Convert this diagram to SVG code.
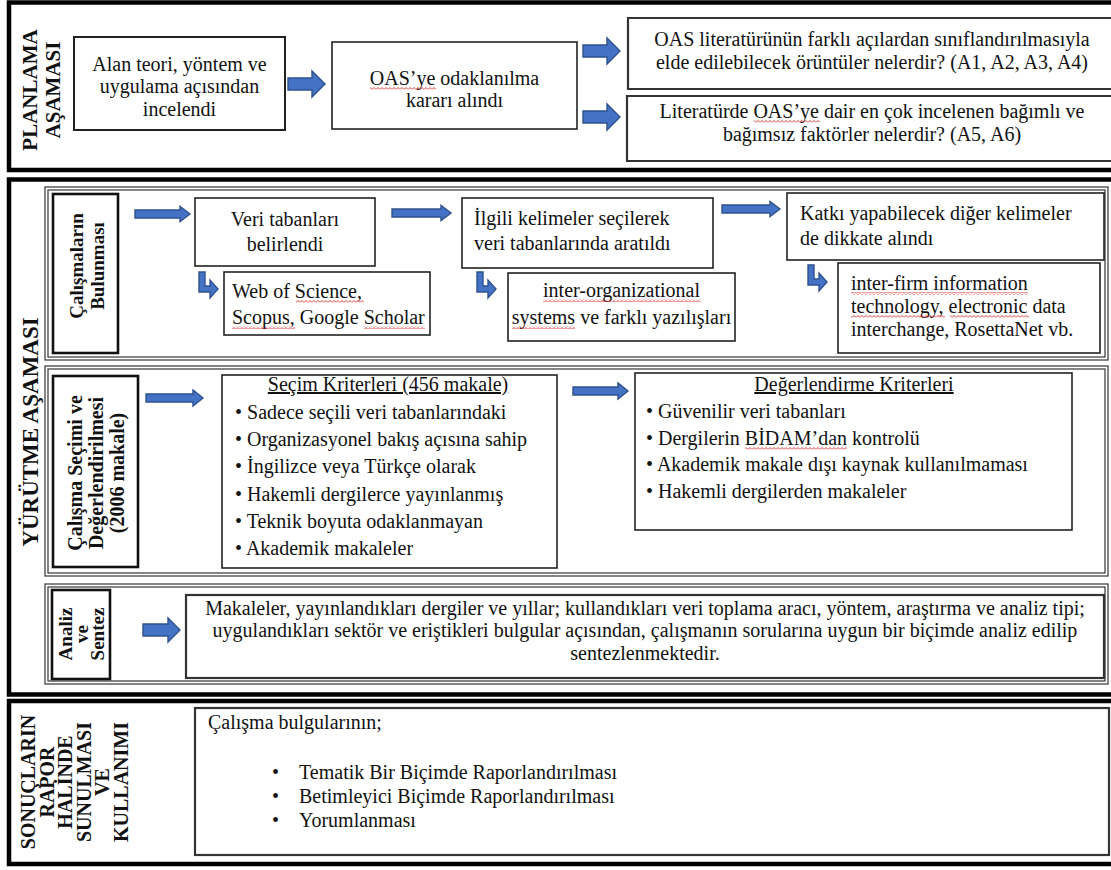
<svg xmlns="http://www.w3.org/2000/svg" width="1111" height="870" viewBox="0 0 1111 870">
<style>
.t{font-family:"Liberation Serif","Times New Roman",serif;font-size:20px;fill:#111}
.m{text-anchor:middle}
.lab{font-family:"Liberation Serif","Times New Roman",serif;font-size:19px;font-weight:bold;fill:#111;text-anchor:middle}
.sec{font-family:"Liberation Serif","Times New Roman",serif;font-size:21px;font-weight:bold;fill:#111;text-anchor:middle}
.frame{fill:none;stroke:#000;stroke-width:4.5}
.sub{fill:none;stroke:#444;stroke-width:1.3}
.box{fill:#fff;stroke:#222;stroke-width:1.6}
.dbl{fill:#fff;stroke:#333;stroke-width:2.2}
.lbox{fill:#fff;stroke:#111;stroke-width:2.6}
.arr{fill:#4472C4;stroke:#2F528F;stroke-width:1.4;stroke-linejoin:miter}
.wv{fill:url(#wave)}
</style>
<defs>
<path id="bigArr" d="M0,-6 H24 V-13 L37,0 L24,13 V6 H0 Z"/>
<path id="lArr" d="M0,0 H6 V14 H11 V8 L19,17 L11,26 V20 H0 Z"/>
<pattern id="wave" width="4" height="3" patternUnits="userSpaceOnUse">
<path d="M0,2.5 L2,0.5 L4,2.5" fill="none" stroke="#E02020" stroke-width="0.9"/>
</pattern>
</defs>
<rect width="1111" height="870" fill="#fff"/>

<!-- Section frames -->
<g id="section-planlama">
<path class="frame" d="M1113,2.5 H9 V170 H1113"/>
<text class="sec" transform="translate(37,90) rotate(-90)"><tspan x="0" y="0">PLANLAMA</tspan><tspan x="0" dy="23">AŞAMASI</tspan></text>
</g>
<g id="section-yurutme">
<path class="frame" d="M1113,179.5 H9 V694.5 H1113"/>
<text class="sec" transform="translate(38,432) rotate(-90)" style="font-size:23px">YÜRÜTME AŞAMASI</text>
</g>
<g id="section-sonuclar">
<path class="frame" d="M1113,701 H9 V864 H1113"/>
<text class="sec" transform="translate(35,782) rotate(-90)" style="font-size:20px"><tspan x="0" y="0">SONUÇLARIN</tspan><tspan x="0" dy="18.5">RAPOR</tspan><tspan x="0" dy="18.5">HALİNDE</tspan><tspan x="0" dy="18.5">SUNULMASI</tspan><tspan x="0" dy="18.5">VE</tspan><tspan x="0" dy="18.5">KULLANIMI</tspan></text>
</g>

<!-- Subsection frames -->
<g id="sub-bulunmasi">
<rect class="sub" x="45" y="187" width="1063" height="173"/>
<rect class="sub" x="48" y="190" width="1057" height="167"/>
</g>
<g id="sub-secim">
<rect class="sub" x="45" y="366" width="1063" height="210"/>
<rect class="sub" x="48" y="369" width="1057" height="204"/>
</g>
<g id="sub-analiz">
<rect class="sub" x="45" y="584" width="1063" height="100"/>
<rect class="sub" x="48" y="587" width="1057" height="94"/>
</g>

<!-- Planlama nodes -->
<g id="n-alan">
<rect class="box" x="74" y="37" width="211" height="93" style="stroke-width:2"/>
<text class="t m"><tspan x="179.5" y="71">Alan teori, yöntem ve</tspan><tspan x="179.5" y="93">uygulama açısından</tspan><tspan x="179.5" y="116">incelendi</tspan></text>
</g>
<g id="n-oas">
<rect class="box" x="332" y="42" width="245" height="87"/>
<text class="t m"><tspan x="454.5" y="85">OAS’ye odaklanılma</tspan><tspan x="454.5" y="107">kararı alındı</tspan></text>
<rect class="wv" x="370" y="87" width="66" height="3"/>
</g>
<g id="n-q1">
<path class="dbl" d="M1113,18 H628 V89 H1113"/>
<text class="t m"><tspan x="872" y="46">OAS literatürünün farklı açılardan sınıflandırılmasıyla</tspan><tspan x="872" y="69">elde edilebilecek örüntüler nelerdir? (A1, A2, A3, A4)</tspan></text>
</g>
<g id="n-q2">
<path class="dbl" d="M1113,96 H627 V161 H1113"/>
<text class="t m"><tspan x="872" y="118">Literatürde OAS’ye dair en çok incelenen bağımlı ve</tspan><tspan x="872" y="141">bağımsız faktörler nelerdir? (A5, A6)</tspan></text>
<rect class="wv" x="754" y="120" width="66" height="3"/>
</g>

<!-- Sub 1 nodes -->
<g id="n-lab-bul">
<rect class="lbox" x="53" y="194" width="65" height="159"/>
<text class="lab" transform="translate(83,266) rotate(-90)"><tspan x="0" y="0">Çalışmaların</tspan><tspan x="0" dy="21">Bulunması</tspan></text>
</g>
<g id="n-veri">
<rect class="box" x="195" y="198" width="180" height="68"/>
<text class="t m"><tspan x="285" y="226">Veri tabanları</tspan><tspan x="285" y="251">belirlendi</tspan></text>
</g>
<g id="n-ilgili">
<rect class="box" x="462" y="198" width="251" height="70"/>
<text class="t"><tspan x="474" y="225">İlgili kelimeler seçilerek</tspan><tspan x="474" y="250">veri tabanlarında aratıldı</tspan></text>
</g>
<g id="n-katki">
<rect class="box" x="787" y="193" width="317" height="67"/>
<text class="t"><tspan x="800" y="220">Katkı yapabilecek diğer kelimeler</tspan><tspan x="800" y="245">de dikkate alındı</tspan></text>
</g>
<g id="n-web">
<rect class="box" x="224" y="272" width="206" height="63"/>
<text class="t"><tspan x="232" y="298">Web of Science,</tspan><tspan x="232" y="324">Scopus, Google Scholar</tspan></text>
<rect class="wv" x="296" y="300" width="68" height="3"/>
<rect class="wv" x="232" y="326" width="63" height="3"/>
<rect class="wv" x="364" y="326" width="61" height="3"/>
</g>
<g id="n-interorg">
<rect class="box" x="508" y="273" width="227" height="68"/>
<text class="t m"><tspan x="621.5" y="297">inter-organizational</tspan><tspan x="621.5" y="324">systems ve farklı yazılışları</tspan></text>
<rect class="wv" x="543" y="299" width="158" height="3"/>
<rect class="wv" x="512" y="326" width="63" height="3"/>
</g>
<g id="n-interfirm">
<rect class="box" x="838" y="263" width="262" height="90"/>
<text class="t"><tspan x="851" y="290">inter-firm information</tspan><tspan x="851" y="313">technology, electronic data</tspan><tspan x="851" y="336">interchange, RosettaNet vb.</tspan></text>
<rect class="wv" x="851" y="292" width="177" height="3"/>
<rect class="wv" x="851" y="315" width="94" height="3"/>
<rect class="wv" x="950" y="315" width="79" height="3"/>
</g>

<!-- Sub 2 nodes -->
<g id="n-lab-secim">
<rect class="lbox" x="53" y="376" width="85" height="191"/>
<text class="lab" transform="translate(82,473) rotate(-90)" style="font-size:20px"><tspan x="0" y="0">Çalışma Seçimi ve</tspan><tspan x="0" dy="21">Değerlendirilmesi</tspan><tspan x="0" dy="21">(2006 makale)</tspan></text>
</g>
<g id="n-secim">
<rect class="box" x="222" y="375" width="335" height="193"/>
<text class="t m" x="388" y="391" text-decoration="underline">Seçim Kriterleri (456 makale)</text>
<text class="t"><tspan x="235" y="419">• Sadece seçili veri tabanlarındaki</tspan><tspan x="235" y="446">• Organizasyonel bakış açısına sahip</tspan><tspan x="235" y="473">• İngilizce veya Türkçe olarak</tspan><tspan x="235" y="501">• Hakemli dergilerce yayınlanmış</tspan><tspan x="235" y="528">• Teknik boyuta odaklanmayan</tspan><tspan x="235" y="555">• Akademik makaleler</tspan></text>
</g>
<g id="n-deger">
<rect class="box" x="635" y="373" width="437" height="157"/>
<text class="t m" x="854" y="391" text-decoration="underline">Değerlendirme Kriterleri</text>
<text class="t"><tspan x="646" y="418">• Güvenilir veri tabanları</tspan><tspan x="646" y="445">• Dergilerin BİDAM’dan kontrolü</tspan><tspan x="646" y="471">• Akademik makale dışı kaynak kullanılmaması</tspan><tspan x="646" y="498">• Hakemli dergilerden makaleler</tspan></text>
<rect class="wv" x="745" y="447" width="102" height="3"/>
</g>

<!-- Sub 3 nodes -->
<g id="n-lab-analiz">
<rect class="lbox" x="52" y="590" width="58" height="89"/>
<text class="lab" transform="translate(72,634) rotate(-90)"><tspan x="0" y="0">Analiz</tspan><tspan x="0" dy="16">ve</tspan><tspan x="0" dy="16">Sentez</tspan></text>
</g>
<g id="n-analiz">
<rect class="dbl" x="186" y="595" width="918" height="83"/>
<text class="t m"><tspan x="645" y="615">Makaleler, yayınlandıkları dergiler ve yıllar; kullandıkları veri toplama aracı, yöntem, araştırma ve analiz tipi;</tspan><tspan x="645" y="637">uygulandıkları sektör ve eriştikleri bulgular açısından, çalışmanın sorularına uygun bir biçimde analiz edilip</tspan><tspan x="645" y="660">sentezlenmektedir.</tspan></text>
</g>

<!-- Section 3 node -->
<g id="n-rapor">
<rect class="dbl" x="195" y="708" width="914" height="147"/>
<text class="t" x="208" y="729">Çalışma bulgularının;</text>
<text class="t"><tspan x="272" y="779">•</tspan><tspan x="272" y="803">•</tspan><tspan x="272" y="827">•</tspan></text>
<text class="t"><tspan x="299" y="779">Tematik Bir Biçimde Raporlandırılması</tspan><tspan x="299" y="803">Betimleyici Biçimde Raporlandırılması</tspan><tspan x="299" y="827">Yorumlanması</tspan></text>
</g>

<!-- Connectors -->
<g id="connectors">
<use href="#bigArr" class="arr" x="288" y="84"/>
<use href="#bigArr" class="arr" x="583" y="51"/>
<use href="#bigArr" class="arr" x="583" y="117"/>
<path class="arr" d="M135,210 H180 V206.5 L190,214 L180,221.5 V218 H135 Z"/>
<path class="arr" d="M392,209 H441 V205.5 L451,213 L441,220.5 V217 H392 Z"/>
<path class="arr" d="M722,205 H770 V201.5 L780,209 L770,216.5 V213 H722 Z"/>
<use href="#lArr" class="arr" x="199" y="272"/>
<use href="#lArr" class="arr" x="477" y="272"/>
<use href="#lArr" class="arr" x="808" y="265"/>
<path class="arr" d="M146,394 H193 V390 L203,398 L193,406 V402 H146 Z"/>
<path class="arr" d="M573,387 H618 V383 L628,391 L618,399 V395 H573 Z"/>
<path class="arr" d="M143,624 H168 V618 L180,630 L168,642 V636 H143 Z"/>
</g>
</svg>
